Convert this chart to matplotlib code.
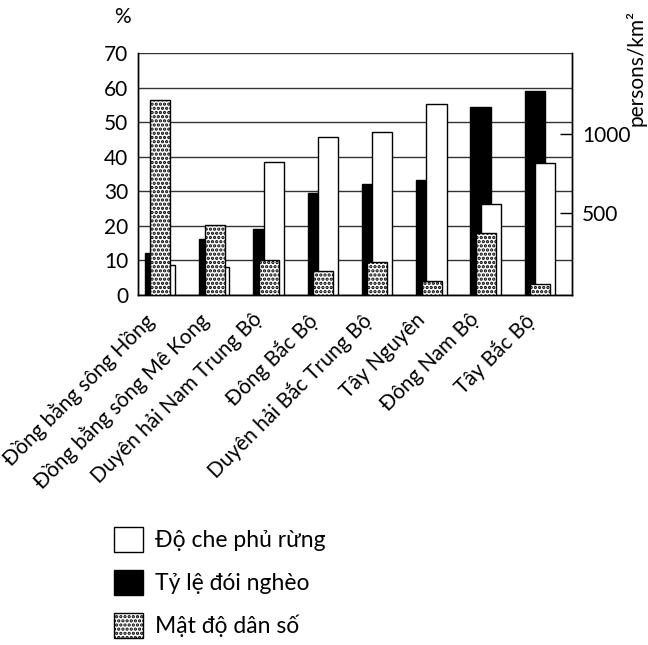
import matplotlib
matplotlib.use("Agg")
import matplotlib.pyplot as plt
import matplotlib.patches as mpatches
import matplotlib.transforms as mtransforms
import numpy as np

plt.rcParams['font.family'] = ['Lato', 'DejaVu Sans']
plt.rcParams['hatch.linewidth'] = 1.6

regions = ["Đồng bằng sông Hồng", "Đồng bằng sông Mê Kong", "Duyên hải Nam Trung Bộ",
           "Đông Bắc Bộ", "Duyên hải Bắc Trung Bộ", "Tây Nguyên", "Đông Nam Bộ", "Tây Bắc Bộ"]
poverty = [12.2, 16.1, 19.2, 29.6, 32.1, 33.4, 54.4, 59.0]      # Tỷ lệ đói nghèo (%)
forest = [8.6, 8.0, 38.4, 45.7, 47.1, 55.2, 26.3, 38.2]         # Độ che phủ rừng (%)
density = [1218, 422, 201, 130, 191, 70, 375, 51]               # Mật độ dân số (persons/km²)
left_ticks = [0, 10, 20, 30, 40, 50, 60, 70]
right_ticks = [500, 1000]

R_MIN, R_MAX = -21, 1515
FS = 15

fig = plt.figure(figsize=(6.48, 6.45), dpi=100)
ax = fig.add_axes([0.213, 0.5426, 0.670, 0.3752])
ax2 = ax.twinx()

x = np.arange(len(regions))
w = 0.37
ax.bar(x - 0.19, poverty, width=w, color='black', edgecolor='black', linewidth=1, zorder=2)
ax.bar(x, forest, width=w, color='white', edgecolor='black', linewidth=1, zorder=3)
dens = np.array(density) - R_MIN
ax2.bar(x - 0.09, dens, width=w, bottom=R_MIN, color='white', edgecolor='black',
        linewidth=1, hatch='....', zorder=4)

ax.set_xlim(-0.5, len(regions) - 0.5)
ax.set_ylim(0, 70)
ax.set_yticks(left_ticks)
ax.set_yticklabels([str(t) for t in left_ticks], fontsize=FS)
ax.tick_params(axis='y', length=0, pad=7)
ax.yaxis.grid(True, color='#333333', linewidth=1)
ax.set_axisbelow(True)
ax.set_xticks(x)
ax.set_xticklabels(regions, rotation=45, ha='right', va='top', rotation_mode='anchor', fontsize=FS)
ax.tick_params(axis='x', length=0, pad=6)
offset = mtransforms.ScaledTranslation(-22 / 100, -6 / 100, fig.dpi_scale_trans)
for lbl in ax.get_xticklabels():
    lbl.set_transform(lbl.get_transform() + offset)

ax2.set_ylim(R_MIN, R_MAX)
ax2.set_yticks(right_ticks)
ax2.set_yticklabels([str(t) for t in right_ticks], fontsize=FS)
ax2.tick_params(axis='y', direction='in', length=9, width=1, pad=7)

for a in (ax, ax2):
    a.spines['top'].set_visible(False)
    for s in ('left', 'right', 'bottom'):
        a.spines[s].set_linewidth(1)
        a.spines[s].set_color('black')

fig.text(122 / 648, 1 - 17 / 645, '%', fontsize=FS, ha='center', va='center')
fig.text(636 / 648, 1 - 68 / 645, 'persons/km²', fontsize=FS, rotation=90, ha='center', va='center')

handles = [mpatches.Patch(facecolor='white', edgecolor='black', linewidth=1),
           mpatches.Patch(facecolor='black', edgecolor='black', linewidth=1),
           mpatches.Patch(facecolor='white', edgecolor='black', linewidth=1, hatch='....')]
labels = ["Độ che phủ rừng", "Tỷ lệ đói nghèo", "Mật độ dân số"]
fig.legend(handles, labels, loc='upper left', bbox_to_anchor=(93 / 648, 1 - 506 / 645),
           frameon=False, fontsize=16.5, handlelength=1.3, handleheight=1.3,
           labelspacing=0.8, handletextpad=0.5)

fig.savefig('out.png', dpi=100)
